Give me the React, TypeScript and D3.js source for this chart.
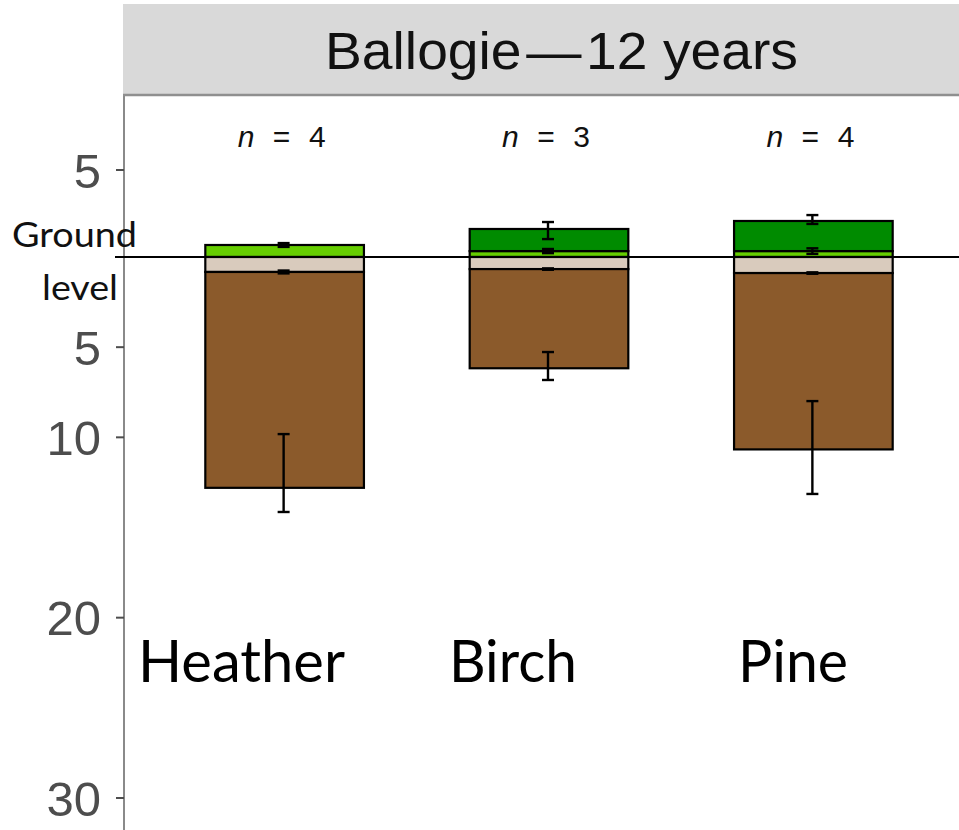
import React from "react";
import * as d3 from "d3";

// ---------- data ----------
const categories = ["Heather", "Birch", "Pine"];
const sampleSizes = [4, 3, 4];
// above ground (cm): low vegetation (light green) and tree layer (dark green, stacked on top)
const lowVeg = [0.69, 0.34, 0.34];
const lowVegSE = [0.11, 0.12, 0.16];
const treeLayer = [0, 1.27, 1.73];
const treeErrLow = [NaN, 1.03, 1.9];
const treeErrHigh = [NaN, 2.01, 2.41];
// below ground (cm): litter (beige) and organic/soil (brown) total depth
const litterDepth = [0.83, 0.67, 0.89];
const litterSE = [0.08, 0.04, 0.04];
const soilDepth = [12.8, 6.17, 10.67];
const soilErrLow = [9.82, 5.27, 7.99];
const soilErrHigh = [14.14, 6.82, 13.14];
const yTickValues = [5, -5, -10, -20, -30];
const stripTitle = "Ballogie\u200a\u2014\u200a12 years";

// ---------- styles ----------
const W = 959;
const H = 830;
const colLowVeg = "#66cd00";
const colTree = "#008b00";
const colLitter = "#d9cbbd";
const colSoil = "#8b5a2b";

export default function App() {
  const y = d3.scaleLinear().domain([-30, 0, 5]).range([798, 257, 170]);
  const x = d3
    .scaleBand<string>()
    .domain(categories)
    .range([126, 972])
    .paddingInner(0.4)
    .paddingOuter(0.3);
  const bw = x.bandwidth();
  const axisX = 124;
  const capW = 12;

  const errorBar = (cx: number, lo: number, hi: number, key: string) => (
    <g key={key} stroke="#000" strokeWidth={2.4}>
      <line x1={cx} x2={cx} y1={y(lo)} y2={y(hi)} />
      <line x1={cx - capW / 2} x2={cx + capW / 2} y1={y(lo)} y2={y(lo)} />
      <line x1={cx - capW / 2} x2={cx + capW / 2} y1={y(hi)} y2={y(hi)} />
    </g>
  );

  const labelLayout = [
    { x: 138, w: 207 },
    { x: 449, w: 128 },
    { x: 738, w: 110 },
  ];

  return (
    <div style={{ position: "absolute", left: 0, top: 0 }}>
      <svg width={W} height={H} style={{ display: "block", background: "#fff" }}>
        {/* strip */}
        <rect x={123} y={4} width={W - 123} height={91} fill="#d9d9d9" />
        <line x1={123} x2={W} y1={95} y2={95} stroke="#8f8f8f" strokeWidth={2.5} />
        <text
          x={325}
          y={69}
          fontFamily="'Liberation Sans', Arial, sans-serif"
          fontSize={51}
          fill="#111"
          textLength={473}
          lengthAdjust="spacingAndGlyphs"
        >
          {stripTitle}
        </text>

        {/* y axis */}
        <line x1={axisX} x2={axisX} y1={96} y2={H} stroke="#8a8a8a" strokeWidth={2} />
        {yTickValues.map((v) => (
          <g key={v}>
            <line x1={axisX - 8} x2={axisX} y1={y(v)} y2={y(v)} stroke="#4d4d4d" strokeWidth={2} />
            <text
              x={101}
              y={y(v)}
              dy="0.36em"
              textAnchor="end"
              fontFamily="'Liberation Sans', Arial, sans-serif"
              fontSize={49}
              fill="#4d4d4d"
            >
              {Math.abs(v)}
            </text>
          </g>
        ))}

        {/* bars */}
        {categories.map((c, i) => {
          const x0 = x(c) as number;
          const cx = x0 + bw / 2 - 1;
          return (
            <g key={c} stroke="#000" strokeWidth={2.2}>
              <rect x={x0} width={bw} y={y(lowVeg[i])} height={y(0) - y(lowVeg[i])} fill={colLowVeg} />
              {treeLayer[i] > 0 && (
                <rect
                  x={x0}
                  width={bw}
                  y={y(lowVeg[i] + treeLayer[i])}
                  height={y(lowVeg[i]) - y(lowVeg[i] + treeLayer[i])}
                  fill={colTree}
                />
              )}
              <rect x={x0} width={bw} y={y(0)} height={y(-litterDepth[i]) - y(0)} fill={colLitter} />
              <rect
                x={x0}
                width={bw}
                y={y(-litterDepth[i])}
                height={y(-soilDepth[i]) - y(-litterDepth[i])}
                fill={colSoil}
              />
              {errorBar(cx, lowVeg[i] - lowVegSE[i], lowVeg[i] + lowVegSE[i], "lv")}
              {treeLayer[i] > 0 && errorBar(cx, treeErrLow[i], treeErrHigh[i], "tr")}
              {errorBar(cx, -litterDepth[i] - litterSE[i], -litterDepth[i] + litterSE[i], "lt")}
              {errorBar(cx, -soilErrLow[i], -soilErrHigh[i], "so")}
            </g>
          );
        })}

        {/* ground line */}
        <line x1={115} x2={W} y1={y(0)} y2={y(0)} stroke="#000" strokeWidth={2} />
        <text
          x={12}
          y={247}
          fontFamily="Lato, 'Open Sans', sans-serif"
          fontSize={34}
          fill="#111"
          textLength={125}
          lengthAdjust="spacingAndGlyphs"
        >
          Ground
        </text>
        <text
          x={42}
          y={300}
          fontFamily="Lato, 'Open Sans', sans-serif"
          fontSize={34}
          fill="#111"
          textLength={76}
          lengthAdjust="spacingAndGlyphs"
        >
          level
        </text>

        {/* n labels */}
        {categories.map((c, i) => {
          const cx = (x(c) as number) + bw / 2 - 3;
          return (
            <text
              key={c}
              x={cx - 44}
              y={147}
              fontFamily="'Liberation Sans', Arial, sans-serif"
              fontSize={30}
              fill="#111"
              textLength={88}
              lengthAdjust="spacing"
            >
              <tspan fontStyle="italic">n</tspan>
              {` = ${sampleSizes[i]}`}
            </text>
          );
        })}

        {/* category labels */}
        {categories.map((c, i) => (
          <text
            key={c}
            x={labelLayout[i].x}
            y={682}
            fontFamily="Lato, 'Open Sans', sans-serif"
            fontSize={58}
            fill="#000"
            textLength={labelLayout[i].w}
            lengthAdjust="spacingAndGlyphs"
          >
            {c}
          </text>
        ))}
      </svg>
    </div>
  );
}
